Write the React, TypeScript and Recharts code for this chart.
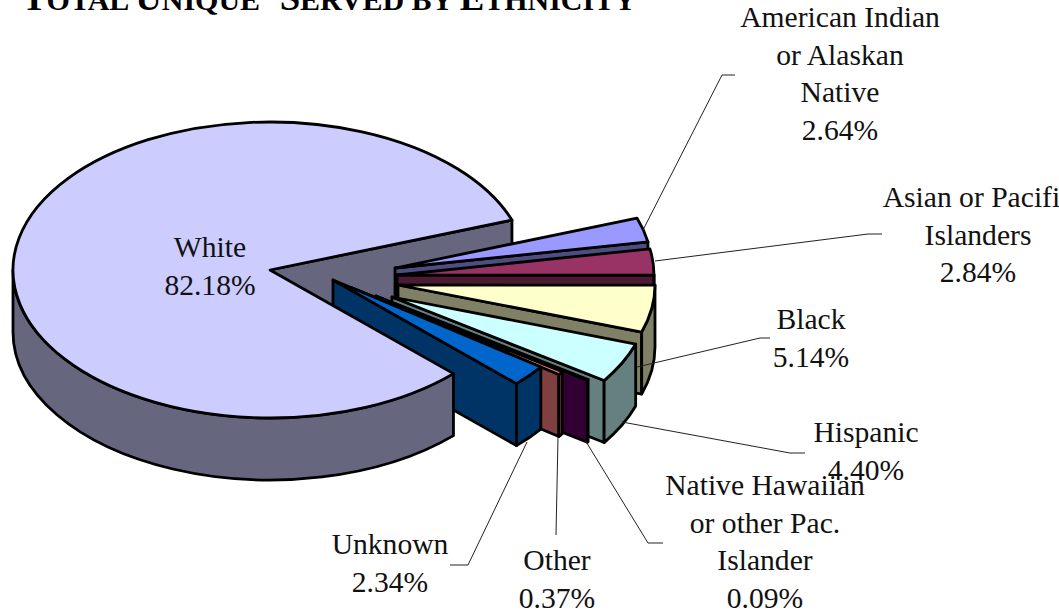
import { PieChart, Pie } from "recharts";

const CATEGORIES = [
  "American Indian or Alaskan Native",
  "Asian or Pacific Islanders",
  "Black",
  "Hispanic",
  "Native Hawaiian or other Pac. Islander",
  "Other",
  "Unknown",
  "White",
];
const VALUES = [2.64, 2.84, 5.14, 4.4, 0.09, 0.37, 2.34, 82.18];
const LABEL_LINES = [
  ["American Indian", "or Alaskan", "Native"],
  ["Asian or Pacific", "Islanders"],
  ["Black"],
  ["Hispanic"],
  ["Native Hawaiian", "or other Pac.", "Islander"],
  ["Other"],
  ["Unknown"],
  ["White"],
];

const TOP_COLORS = ["#9999FF", "#993366", "#FFFFCC", "#CCFFFF", "#660066", "#FF8080", "#0066CC", "#CCCCFF"];
const SIDE_COLORS = ["#4D4D80", "#4D1A33", "#808066", "#668080", "#330033", "#804040", "#003366", "#66667F"];

// how far each slice is pulled out of the pie
const EXPLODE = [
  [125, -2],
  [127, 5],
  [128, 15],
  [122, 27],
  [106, 26],
  [81, 17.5],
  [63, 10],
  [0, 0],
];

// label anchor and first baseline, then the leader line points
const LABEL_POS = [
  [840, 27],
  [978, 207],
  [811, 329],
  [866, 442],
  [765, 495],
  [557, 570],
  [390, 554],
  [210, 257],
];
const LEADERS = [
  "643,230 722,75 735,75",
  "655,261 868,234 882,234",
  "637,367 760,338 770,338",
  "622,422 790,453 805,453",
  "585,440 648,543 663,543",
  "558,437 556,535",
  "527,442 468,565 450,565",
  "",
];

const WIDTH = 1059;
const HEIGHT = 613;
const LINE_HEIGHT = 37.6;
const FONT = "'Liberation Serif', serif";
const Y_RATIO = 148 / 257;
const DEPTH = 62;
const EDGE = 2.8;

const data = CATEGORIES.map((name, i) => ({ name, value: VALUES[i] }));

function geometry(props: any) {
  const i = CATEGORIES.indexOf(props.name);
  const cx = props.cx + EXPLODE[i][0];
  const cy = props.cy + EXPLODE[i][1];
  const rx = props.outerRadius;
  const ry = rx * Y_RATIO;
  const pt = (deg: number, dy = 0) => {
    const a = (deg * Math.PI) / 180;
    return `${cx + rx * Math.cos(a)} ${cy - ry * Math.sin(a) + dy}`;
  };
  return { i, cx, cy, rx, ry, pt, s: props.startAngle, e: props.endAngle };
}

function endFace(g: any) {
  return `M${g.cx} ${g.cy}L${g.pt(g.e)}L${g.pt(g.e, DEPTH)}L${g.cx} ${g.cy + DEPTH}Z`;
}

function BackShape(props: any) {
  const g = geometry(props);
  if (CATEGORIES[g.i] !== "White") return <g />;
  return <path d={endFace(g)} fill={SIDE_COLORS[g.i]} stroke="#000" strokeWidth={EDGE} strokeLinejoin="round" />;
}

function SliceShape(props: any) {
  const g = geometry(props);
  const isWhite = CATEGORIES[g.i] === "White";
  const large = g.s - g.e > 180 ? 1 : 0;
  const top = `M${g.cx} ${g.cy}L${g.pt(g.s)}A${g.rx} ${g.ry} 0 ${large} 1 ${g.pt(g.e)}Z`;
  // outer wall only shows on the lower half of the ellipse
  const a1 = Math.min(g.s, 0);
  const a2 = Math.max(g.e, -180);
  const rim =
    a1 > a2
      ? `M${g.pt(a1)}A${g.rx} ${g.ry} 0 0 1 ${g.pt(a2)}L${g.pt(a2, DEPTH)}A${g.rx} ${g.ry} 0 0 0 ${g.pt(a1, DEPTH)}Z`
      : null;
  const line = { stroke: "#000", strokeWidth: EDGE, strokeLinejoin: "round" as const };
  return (
    <g>
      {!isWhite && <path d={endFace(g)} fill={SIDE_COLORS[g.i]} {...line} />}
      {rim && <path d={rim} fill={SIDE_COLORS[g.i]} {...line} />}
      <path d={top} fill={TOP_COLORS[g.i]} {...line} />
    </g>
  );
}

function SliceLabel(props: any) {
  const i = props.index;
  const [x, y] = LABEL_POS[i];
  const lines = [...LABEL_LINES[i], `${VALUES[i].toFixed(2)}%`];
  return (
    <g>
      {LEADERS[i] && <polyline points={LEADERS[i]} fill="none" stroke="#222" strokeWidth={1} />}
      <text x={x} y={y} textAnchor="middle" fontFamily={FONT} fontSize={29.6} fill="#111">
        {lines.map((t, n) => (
          <tspan key={n} x={x} y={y + n * LINE_HEIGHT}>
            {t}
          </tspan>
        ))}
      </text>
    </g>
  );
}

export default function App() {
  return (
    <div style={{ position: "absolute", left: 0, top: 0, width: WIDTH, height: HEIGHT, background: "#fff" }}>
      <PieChart width={WIDTH} height={HEIGHT} margin={{ top: 0, right: 0, bottom: 0, left: 0 }}>
        <text x={22} y={10} fontFamily={FONT} fontWeight="bold" fontSize={30} fill="#000">
          <tspan fontSize={36.8}>T</tspan>OTAL <tspan fontSize={36.8}>U</tspan>NIQUE
          <tspan dx={12}> </tspan>
          <tspan fontSize={36.8}>S</tspan>ERVED BY <tspan fontSize={36.8}>E</tspan>THNICITY
        </text>
        <Pie
          data={data}
          dataKey="value"
          nameKey="name"
          cx={270}
          cy={270}
          innerRadius={0}
          outerRadius={257}
          startAngle={19.7}
          endAngle={-340.3}
          stroke="none"
          label={false}
          labelLine={false}
          shape={BackShape}
          legendType="none"
          isAnimationActive={false}
        />
        <Pie
          data={data}
          dataKey="value"
          nameKey="name"
          cx={270}
          cy={270}
          innerRadius={0}
          outerRadius={257}
          startAngle={19.7}
          endAngle={-340.3}
          stroke="none"
          label={SliceLabel}
          labelLine={false}
          shape={SliceShape}
          isAnimationActive={false}
        />
      </PieChart>
    </div>
  );
}
